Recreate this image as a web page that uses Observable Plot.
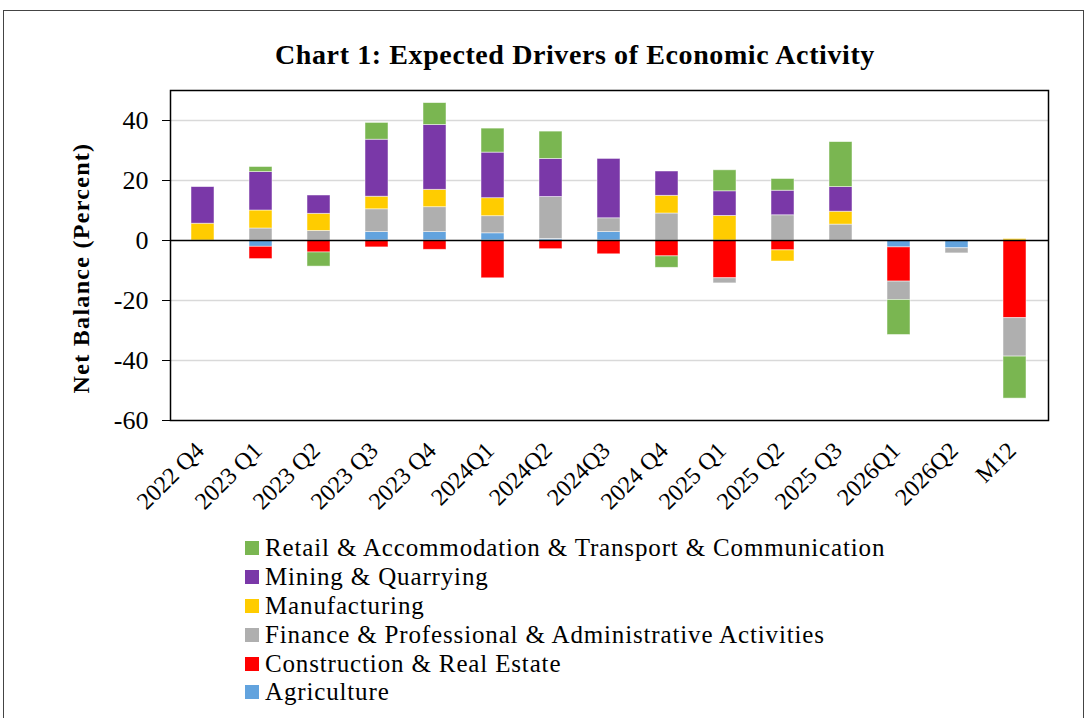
<!DOCTYPE html>
<html>
<head>
<meta charset="utf-8">
<script src="https://cdn.jsdelivr.net/npm/d3@7"></script>
<script src="https://cdn.jsdelivr.net/npm/@observablehq/plot@0.6"></script>
<style>
  html, body { margin: 0; padding: 0; background: #fff; }
  body { width: 1089px; height: 718px; overflow: hidden; position: relative; font-family: "Liberation Serif", "Times New Roman", serif; }
  #border { position: absolute; left: 3px; top: 10px; width: 1081px; height: 760px; border: 1.5px solid #444; box-sizing: border-box; }
  #title { position: absolute; left: 0; width: 1150px; top: 38px; line-height: 34px; text-align: center; font-weight: bold; font-size: 28px; letter-spacing: 0.6px; color: #000; }
  #ylabel { position: absolute; left: 81px; top: 268px; transform: translate(-50%, -50%) rotate(-90deg); font-weight: bold; font-size: 24px; letter-spacing: 1.3px; white-space: nowrap; color: #000; }
  #chart { position: absolute; left: 0; top: 0; }
  #legend { position: absolute; left: 245px; top: 534px; font-size: 25px; letter-spacing: 0.85px; color: #000; }
  .item { display: flex; align-items: center; height: 28.8px; white-space: nowrap; }
  .sw { width: 14px; height: 14px; margin-right: 6px; flex: none; }
</style>
</head>
<body>
<div id="border"></div>
<div id="chart"></div>
<div id="title">Chart 1: Expected Drivers of Economic Activity</div>
<div id="ylabel">Net Balance (Percent)</div>
<div id="legend"></div>
<script>
const categories = ["2022 Q4","2023 Q1","2023 Q2","2023 Q3","2023 Q4","2024Q1","2024Q2","2024Q3","2024 Q4","2025 Q1","2025 Q2","2025 Q3","2026Q1","2026Q2","M12"];

const agriculture   = [0, -2.1, 0, 2.8, 2.8, 2.4, 0.5, 2.8, 0, 0, 0, 0, -2.3, -2.6, 0];
const construction  = [0, -4.1, -4.0, -2.3, -3.1, -12.6, -2.9, -4.6, -5.3, -12.6, -3.3, 0, -11.4, 0, -25.9];
const finance       = [0, 4.0, 3.2, 7.6, 8.3, 5.7, 14.0, 4.6, 9.0, -1.7, 8.4, 5.3, -6.1, -1.7, -12.8];
const manufacturing = [5.6, 6.0, 5.7, 4.2, 5.8, 6.0, 0, 0, 5.9, 8.2, -3.7, 4.3, 0, 0, 0.5];
const mining        = [12.2, 12.8, 6.1, 19.0, 21.6, 15.2, 12.7, 19.8, 8.1, 8.2, 8.2, 8.2, 0, 0, 0];
const retail        = [0, 1.7, -4.7, 5.6, 7.3, 8.0, 9.1, 0, -3.8, 7.0, 3.9, 15.0, -11.7, 0, -14.0];

const seriesNames = [
  "Agriculture",
  "Construction & Real Estate",
  "Finance & Professional & Administrative Activities",
  "Manufacturing",
  "Mining & Quarrying",
  "Retail & Accommodation & Transport & Communication"
];
const seriesValues = [agriculture, construction, finance, manufacturing, mining, retail];
const seriesColors = ["#62A3DE", "#FF0000", "#AFAFAF", "#FFCC00", "#7A38A8", "#7AB651"];

const yTicks = [-60, -40, -20, 0, 20, 40];
const gridTicks = [-40, -20, 20, 40];

const rows = [];
categories.forEach((c, i) => {
  seriesNames.forEach((s, j) => {
    rows.push({category: c, series: s, value: seriesValues[j][i]});
  });
});

const font = '"Liberation Serif", "Times New Roman", serif';

const chart = Plot.plot({
  width: 1089,
  height: 530,
  marginTop: 90,
  marginBottom: 110,
  marginLeft: 170,
  marginRight: 41,
  style: {fontFamily: font, fontSize: "26px", color: "#000", background: "transparent", overflow: "visible"},
  x: {domain: categories, paddingInner: 0.6, paddingOuter: 0.3, axis: null},
  y: {domain: [-60, 50], ticks: yTicks, label: null},
  color: {domain: seriesNames, range: seriesColors},
  marks: [
    Plot.ruleY(gridTicks, {stroke: "#D9D9D9", strokeWidth: 1.5}),
    Plot.barY(rows, {x: "category", y: "value", fill: "series", order: seriesNames, stroke: "#fff", strokeOpacity: 0.6, strokeWidth: 0.8}),
    Plot.ruleY([0], {stroke: "#000", strokeWidth: 1.5}),
    Plot.axisY({ticks: yTicks, tickSize: 8, tickPadding: 14, label: null, fontSize: 26, tickFormat: d => String(d)}),
    Plot.text(categories, {x: d => d, frameAnchor: "bottom", text: d => d, rotate: -45, textAnchor: "end", lineAnchor: "middle", dx: -3, dy: 26, fontSize: 24, letterSpacing: "1px"}),
    Plot.frame({stroke: "#000", strokeWidth: 1.5})
  ]
});
document.getElementById("chart").appendChild(chart);

const legend = document.getElementById("legend");
const legendOrder = [5, 4, 3, 2, 1, 0];
legendOrder.forEach(j => {
  const item = document.createElement("div");
  item.className = "item";
  const sw = document.createElement("span");
  sw.className = "sw";
  sw.style.background = seriesColors[j];
  const t = document.createElement("span");
  t.textContent = seriesNames[j];
  item.appendChild(sw);
  item.appendChild(t);
  legend.appendChild(item);
});
</script>
</body>
</html>
